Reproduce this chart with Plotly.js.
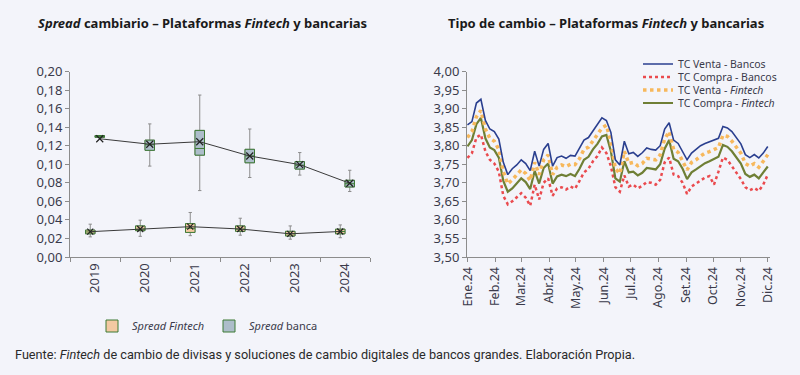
<!DOCTYPE html>
<html><head><meta charset="utf-8">
<script src="https://cdn.plot.ly/plotly-3.0.1.min.js"></script>
<style>html,body{margin:0;padding:0;background:#f3f4fa;}#chart{width:800px;height:375px;}</style>
</head><body><div id="chart"></div>
<script>
// ---------- Left chart: spread boxes ----------
const years = ['2019','2020','2021','2022','2023','2024'];
const finQ1   = [0.0250, 0.0284, 0.0265, 0.0277, 0.0227, 0.0250];
const finMed  = [0.0270, 0.0300, 0.0310, 0.0300, 0.0250, 0.0275];
const finQ3   = [0.0290, 0.0335, 0.0360, 0.0335, 0.0277, 0.0300];
const finLo   = [0.0217, 0.0223, 0.0230, 0.0235, 0.0192, 0.0208];
const finHi   = [0.0354, 0.0397, 0.0480, 0.0418, 0.0335, 0.0346];
const finMean = [0.0273, 0.0302, 0.0327, 0.0302, 0.0250, 0.0275];

const banQ1   = [0.1290, 0.1150, 0.1098, 0.1016, 0.0948, 0.0755];
const banMed  = [0.1300, 0.1210, 0.1170, 0.1090, 0.0990, 0.0790];
const banQ3   = [0.1310, 0.1260, 0.1365, 0.1161, 0.1028, 0.0827];
const banLo   = [0.1290, 0.0980, 0.0716, 0.0857, 0.0883, 0.0706];
const banHi   = [0.1310, 0.1435, 0.1746, 0.1380, 0.1126, 0.0935];
const banMean = [0.1275, 0.1216, 0.1243, 0.1089, 0.0996, 0.0795];

// ---------- Right chart: exchange rates 2024 ----------
const dates = ['2024-01-01','2024-01-06','2024-01-11','2024-01-16','2024-01-21','2024-01-26','2024-01-31',
'2024-02-05','2024-02-10','2024-02-15','2024-02-20','2024-02-25','2024-03-01','2024-03-06','2024-03-11',
'2024-03-16','2024-03-21','2024-03-26','2024-03-31','2024-04-05','2024-04-10','2024-04-15','2024-04-20',
'2024-04-25','2024-04-30','2024-05-05','2024-05-10','2024-05-15','2024-05-20','2024-05-25','2024-05-30',
'2024-06-04','2024-06-09','2024-06-14','2024-06-19','2024-06-24','2024-06-29','2024-07-04','2024-07-09',
'2024-07-14','2024-07-19','2024-07-24','2024-07-29','2024-08-03','2024-08-08','2024-08-13','2024-08-18',
'2024-08-23','2024-08-28','2024-09-02','2024-09-07','2024-09-12','2024-09-17','2024-09-22','2024-09-27',
'2024-10-02','2024-10-07','2024-10-12','2024-10-17','2024-10-22','2024-10-27','2024-11-01','2024-11-06',
'2024-11-11','2024-11-16','2024-11-21','2024-11-26','2024-12-01'];
const ventaBancos = [3.856,3.865,3.915,3.925,3.868,3.845,3.838,3.818,3.755,3.722,3.738,3.748,3.762,3.752,3.733,
3.785,3.745,3.790,3.806,3.745,3.768,3.772,3.766,3.774,3.772,3.792,3.815,3.822,3.840,3.856,3.875,3.868,3.836,
3.762,3.748,3.812,3.778,3.782,3.771,3.781,3.794,3.790,3.788,3.800,3.845,3.862,3.815,3.806,3.785,3.762,3.780,
3.789,3.800,3.806,3.810,3.815,3.820,3.852,3.848,3.838,3.820,3.805,3.776,3.768,3.776,3.767,3.780,3.798];
const compraBancos = [3.767,3.780,3.822,3.830,3.785,3.762,3.752,3.730,3.665,3.642,3.650,3.660,3.672,3.660,3.638,
3.695,3.655,3.700,3.712,3.665,3.685,3.688,3.682,3.690,3.684,3.705,3.728,3.738,3.758,3.772,3.795,3.780,3.745,
3.688,3.676,3.720,3.690,3.695,3.685,3.692,3.702,3.700,3.695,3.708,3.755,3.768,3.722,3.718,3.700,3.670,3.690,
3.698,3.706,3.714,3.718,3.695,3.730,3.768,3.762,3.745,3.730,3.710,3.688,3.680,3.686,3.678,3.695,3.722];
const ventaFintech = [3.822,3.838,3.878,3.895,3.845,3.820,3.812,3.790,3.730,3.697,3.708,3.720,3.735,3.725,3.706,
3.755,3.722,3.762,3.775,3.722,3.742,3.748,3.744,3.750,3.749,3.765,3.790,3.796,3.815,3.830,3.848,3.855,3.810,
3.738,3.725,3.785,3.752,3.755,3.746,3.752,3.766,3.763,3.762,3.775,3.818,3.838,3.790,3.782,3.760,3.735,3.755,
3.762,3.772,3.780,3.784,3.790,3.795,3.828,3.825,3.812,3.795,3.780,3.752,3.745,3.752,3.742,3.758,3.776];
const compraFintech = [3.798,3.815,3.858,3.875,3.820,3.795,3.788,3.768,3.705,3.676,3.685,3.698,3.712,3.702,3.683,
3.732,3.698,3.740,3.752,3.698,3.717,3.722,3.718,3.724,3.718,3.738,3.762,3.770,3.790,3.805,3.825,3.829,3.785,
3.712,3.703,3.758,3.728,3.730,3.720,3.727,3.740,3.738,3.736,3.750,3.792,3.815,3.765,3.758,3.738,3.710,3.728,
3.736,3.745,3.753,3.758,3.764,3.770,3.802,3.797,3.785,3.768,3.752,3.724,3.716,3.722,3.712,3.728,3.744];
const monthTicks = ['2024-01-01','2024-02-01','2024-03-01','2024-04-01','2024-05-01','2024-06-01',
'2024-07-01','2024-08-01','2024-09-01','2024-10-01','2024-11-01','2024-12-01'];
const monthLabels = ['Ene.24','Feb.24','Mar.24','Abr.24','May.24','Jun.24','Jul.24','Ago.24','Set.24','Oct.24','Nov.24','Dic.24'];

const FONT = 'Noto Sans, Open Sans, sans-serif';
const BG = '#f3f4fa';
const GREEN = '#3d7a35';
const OFF = 0.095;

const traces = [];
// whisker traces (gray)
traces.push({type:'box', x:years, q1:finQ1, median:finMed, q3:finQ3, lowerfence:finLo, upperfence:finHi,
  offsetgroup:'fin', line:{color:'#8c8c8c', width:1}, fillcolor:'rgba(0,0,0,0)', whiskerwidth:0.35,
  showlegend:false, hoverinfo:'skip', xaxis:'x', yaxis:'y'});
traces.push({type:'box', x:years, q1:banQ1, median:banMed, q3:banQ3, lowerfence:banLo, upperfence:banHi,
  offsetgroup:'ban', line:{color:'#8c8c8c', width:1}, fillcolor:'rgba(0,0,0,0)', whiskerwidth:0.35,
  showlegend:false, hoverinfo:'skip', xaxis:'x', yaxis:'y'});
// boxes (green outline, filled)
traces.push({type:'box', name:'<i>Spread Fintech</i>', x:years, q1:finQ1, median:finMed, q3:finQ3, lowerfence:finQ1, upperfence:finQ3,
  offsetgroup:'fin', line:{color:GREEN, width:1}, fillcolor:'#f3c9a2', whiskerwidth:0,
  legend:'legend', xaxis:'x', yaxis:'y'});
traces.push({type:'box', name:'<i>Spread</i> banca', x:years, q1:banQ1, median:banMed, q3:banQ3, lowerfence:banQ1, upperfence:banQ3,
  offsetgroup:'ban', line:{color:GREEN, width:1}, fillcolor:'#adbdca', whiskerwidth:0,
  legend:'legend', xaxis:'x', yaxis:'y'});
// mean lines with X markers
traces.push({type:'scatter', mode:'lines+markers', x:years.map((_, i) => i - OFF), y:finMean,
  line:{color:'#3a3a3a', width:1}, marker:{symbol:'x-thin', size:6, line:{color:'#222', width:1.2}},
  showlegend:false, xaxis:'x3', yaxis:'y'});
traces.push({type:'scatter', mode:'lines+markers', x:years.map((_, i) => i + OFF), y:banMean,
  line:{color:'#3a3a3a', width:1}, marker:{symbol:'x-thin', size:7, line:{color:'#222', width:1.2}},
  showlegend:false, xaxis:'x3', yaxis:'y'});

// right chart lines
traces.push({type:'scatter', mode:'lines', name:'TC Compra - Bancos', x:dates, y:compraBancos,
  line:{color:'#ea4a4e', width:2.5, dash:'dot'}, legend:'legend3', xaxis:'x2', yaxis:'y2'});
traces.push({type:'scatter', mode:'lines', name:'TC Compra - <i>Fintech</i>', x:dates, y:compraFintech,
  line:{color:'#6f7f35', width:2.2}, legend:'legend5', xaxis:'x2', yaxis:'y2'});
traces.push({type:'scatter', mode:'lines', name:'TC Venta - <i>Fintech</i>', x:dates, y:ventaFintech,
  line:{color:'#f7b85c', width:3.5, dash:'dot'}, legend:'legend4', xaxis:'x2', yaxis:'y2'});
traces.push({type:'scatter', mode:'lines', name:'TC Venta - Bancos', x:dates, y:ventaBancos,
  line:{color:'#2a3f8f', width:1.6}, legend:'legend2', xaxis:'x2', yaxis:'y2'});

const yDom = [1 - 257/375, 1 - 71.5/375];
const axCommon = {showline:true, linecolor:'#8c8c8c', linewidth:1, ticks:'outside', tickcolor:'#8c8c8c',
  ticklen:4, showgrid:false, zeroline:false, tickfont:{family:FONT, size:13, color:'#3a3a4a'}};
const legCommon = {bgcolor:'rgba(0,0,0,0)', font:{family:FONT, size:10.5, color:'#3a3a4a'}, yanchor:'middle', xanchor:'left'};

const layout = {
  width:800, height:375, paper_bgcolor:BG, plot_bgcolor:BG,
  margin:{l:0, r:0, t:0, b:0}, separators:',.',
  boxmode:'group', boxgap:0.62, boxgroupgap:0,
  xaxis:Object.assign({}, axCommon, {domain:[70/800, 370/800], type:'category', range:[-0.5, 5.5],
    tickson:'boundaries', tickangle:-90, anchor:'y'}),
  xaxis3:{overlaying:'x', range:[-0.5, 5.5], visible:false, anchor:'y'},
  yaxis:Object.assign({}, axCommon, {domain:yDom, range:[0, 0.2], dtick:0.02, tickformat:'.2f', anchor:'x'}),
  xaxis2:Object.assign({}, axCommon, {domain:[467/800, 770/800], type:'date',
    range:['2023-12-31 12:00', '2024-12-03 12:00'], tickmode:'array', tickvals:monthTicks, ticktext:monthLabels,
    tickangle:-90, anchor:'y2', tickfont:{family:FONT, size:12.5, color:'#3a3a4a'}}),
  yaxis2:Object.assign({}, axCommon, {domain:yDom, range:[3.5, 4.0], dtick:0.05, tickformat:'.2f', anchor:'x2'}),
  legend:Object.assign({}, legCommon, {orientation:'h', x:92/800, y:1 - 326/375, font:{family:FONT, size:11, color:'#3a3a4a'}}),
  legend2:Object.assign({}, legCommon, {x:638/800, y:1 - 64/375}),
  legend3:Object.assign({}, legCommon, {x:638/800, y:1 - 77/375}),
  legend4:Object.assign({}, legCommon, {x:638/800, y:1 - 90/375}),
  legend5:Object.assign({}, legCommon, {x:638/800, y:1 - 103/375}),
  annotations:[
    {text:'<b><i>Spread</i> cambiario – Plataformas <i>Fintech</i> y bancarias</b>', xref:'paper', yref:'paper',
     x:203/800, y:1 - 22.5/375, xanchor:'center', yanchor:'middle', showarrow:false,
     font:{family:FONT, size:13, color:'#1a1a1a'}},
    {text:'<b>Tipo de cambio – Plataformas <i>Fintech</i> y bancarias</b>', xref:'paper', yref:'paper',
     x:605.5/800, y:1 - 22.5/375, xanchor:'center', yanchor:'middle', showarrow:false,
     font:{family:FONT, size:13, color:'#1a1a1a'}},
    {text:'Fuente: <i>Fintech</i> de cambio de divisas y soluciones de cambio digitales de bancos grandes. Elaboración Propia.',
     xref:'paper', yref:'paper', x:13/800, y:1 - 354/375, xanchor:'left', yanchor:'middle', showarrow:false,
     font:{family:'Roboto, sans-serif', size:12.7, color:'#2a2a2a'}}
  ]
};

Plotly.newPlot('chart', traces, layout, {staticPlot:true, displayModeBar:false});
</script></body></html>
